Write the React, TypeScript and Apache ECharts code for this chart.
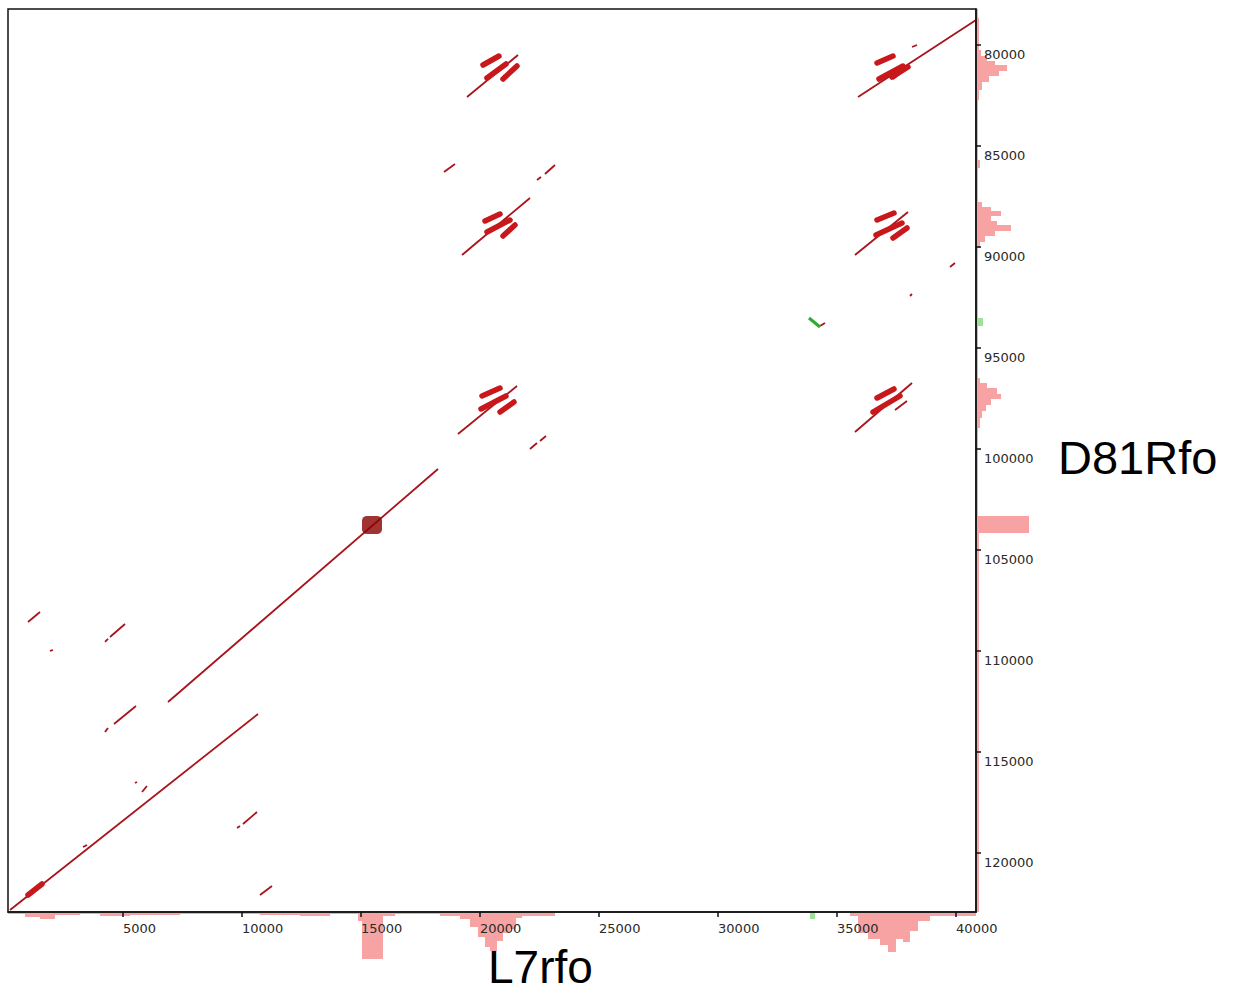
import React, { useEffect, useRef } from "react";
import * as echarts from "echarts";

// Axis ranges (sequence positions)
const X_MIN = 170;
const X_MAX = 40836;
const Y_MIN = 78220;
const Y_MAX = 122920;
const xTicks = [5000, 10000, 15000, 20000, 25000, 30000, 35000, 40000];
const yTicks = [80000, 85000, 90000, 95000, 100000, 105000, 110000, 115000, 120000];

const xTitle = "L7rfo";
const yTitle = "D81Rfo";

// Alignment segments [x1, y1, x2, y2]
const diagonalSegments = [
  [254, 122820, 10672, 113118],
  [6892, 112524, 18234, 100990],
  [35879, 82576, 40836, 78765],
  [19453, 82576, 21595, 80496],
  [19243, 90397, 22099, 87576],
  [35752, 90397, 37979, 88269],
  [19074, 99259, 21553, 96882],
  [35752, 99160, 38147, 96733],
  [1010, 108564, 1514, 108069],
  [1934, 109999, 2060, 109950],
  [4245, 109554, 4371, 109405],
  [4455, 109306, 5085, 108663],
  [4245, 114009, 4371, 113811],
  [4623, 113613, 5547, 112722],
  [5505, 116533, 5589, 116484],
  [5799, 116979, 6009, 116682],
  [3321, 119701, 3489, 119602],
  [9790, 118761, 9916, 118662],
  [10042, 118562, 10630, 117969],
  [10757, 122077, 11261, 121632],
  [22099, 100000, 22393, 99703],
  [22519, 99604, 22771, 99358],
  [18486, 86289, 18948, 85893],
  [22393, 86685, 22561, 86536],
  [22729, 86388, 23149, 85942],
  [39743, 90991, 39953, 90793],
  [38063, 92427, 38147, 92328],
  [38147, 80101, 38357, 80002],
  [34282, 93912, 34492, 93763],
  [37433, 98070, 37937, 97624],
  [37349, 81685, 37853, 81240],
];

// Short tandem-repeat blocks [x1, y1, x2, y2]
const repeatBlocks = [
  [20125, 80992, 20797, 80547],
  [20293, 81636, 21091, 80943],
  [20965, 81685, 21553, 81042],
  [36677, 80893, 37349, 80547],
  [36761, 81685, 37769, 81042],
  [37307, 81586, 37979, 81091],
  [20209, 88714, 20839, 88368],
  [20293, 89259, 21259, 88665],
  [20965, 89457, 21469, 88912],
  [36677, 88665, 37391, 88318],
  [36635, 89407, 37727, 88813],
  [37349, 89556, 37937, 89061],
  [20083, 97377, 20839, 96981],
  [20041, 98020, 21091, 97377],
  [20839, 98169, 21427, 97674],
  [36677, 97476, 37391, 97030],
  [36509, 98169, 37643, 97377],
  [1010, 122077, 1598, 121533],
];

// Forward-strand match
const forwardSegments = [[33820, 93516, 34282, 93961]];

// Dense self-match block
const denseBlock = [[15462, 103762]];

// Coverage profile along x (boundaries) and depths
const bottomCoverageX = [170, 884, 1514, 2144, 3195, 4035, 5295, 7396, 10757, 12437, 13697, 14874, 15042, 15924, 16428, 18318, 19159, 19579, 19915, 20209, 20419, 20713, 20965, 21259, 21511, 21763, 23149, 35542, 35878, 36298, 36802, 37138, 37474, 37768, 38063, 38399, 38903, 40836];
const bottomCoverageH = [1, 4, 6, 2, 1, 3, 2, 1, 2, 3, 1, 8, 46, 3, 1, 3, 6, 14, 24, 34, 38, 28, 20, 16, 5, 3, 0, 3, 20, 26, 32, 39, 26, 29, 18, 8, 3];
const bottomForwardX = [33862, 34072];
const bottomForwardH = [6];

// Coverage profile along y (boundaries) and widths
const rightCoverageY = [78220, 78666, 80250, 80547, 80794, 80992, 81289, 81537, 81834, 82230, 82725, 85695, 86091, 87774, 88021, 88219, 88467, 88714, 88912, 89209, 89457, 89754, 90051, 96486, 96733, 96981, 97278, 97525, 97822, 98119, 98466, 98961, 103317, 104158, 122920];
const rightCoverageW = [1, 2, 4, 10, 18, 30, 22, 12, 5, 2, 1, 3, 1, 5, 14, 24, 14, 20, 34, 18, 8, 3, 1, 3, 10, 20, 24, 14, 9, 5, 3, 1, 52, 2];
const rightForwardY = [93516, 93912];
const rightForwardW = [6];

const PINK = "#f7a3a3";
const GREEN_PINK = "#9be39b";

function stepRender(bounds: number[], vals: number[], alongX: boolean, color: string) {
  return (_params: any, api: any) => {
    const P = (pos: number, v: number) => (alongX ? api.coord([pos, v]) : api.coord([v, pos]));
    const pts: number[][] = [];
    pts.push(P(bounds[0], 0));
    for (let i = 0; i < vals.length; i++) {
      pts.push(P(bounds[i], vals[i]));
      pts.push(P(bounds[i + 1], vals[i]));
    }
    pts.push(P(bounds[vals.length], 0));
    return { type: "polygon", shape: { points: pts }, style: { fill: color } };
  };
}

const toLines = (segs: number[][]) =>
  segs.map((s) => ({ coords: [[s[0], s[1]], [s[2], s[3]]] }));

export default function App() {
  const ref = useRef<HTMLDivElement>(null);
  useEffect(() => {
    if (!ref.current) return;
    const chart = echarts.init(ref.current, undefined, { renderer: "svg" });
    const labelFont = { fontFamily: "DejaVu Sans", fontSize: 13, color: "#2a2a2a", formatter: (v: number) => String(v) };
    chart.setOption({
      animation: false,
      backgroundColor: "#fff",
      grid: [
        { left: 8, top: 9, width: 968, height: 903, show: true, borderColor: "#111", borderWidth: 1.5, backgroundColor: "#fff", z: 1 },
        { left: 8, top: 913, width: 968, height: 80, show: false },
        { left: 977, top: 9, width: 80, height: 903, show: false },
      ],
      xAxis: [
        {
          gridIndex: 0, type: "value", min: X_MIN, max: X_MAX, position: "bottom", z: 10,
          axisLine: { show: true, lineStyle: { color: "#111", width: 1.5 } },
          axisTick: { show: true, customValues: xTicks, length: 5, lineStyle: { color: "#111", width: 1.5 } },
          axisLabel: { show: true, customValues: xTicks, align: "left", margin: 10, ...labelFont },
          splitLine: { show: false },
        },
        { gridIndex: 1, type: "value", min: X_MIN, max: X_MAX, show: false },
        { gridIndex: 2, type: "value", min: 0, max: 80, show: false },
      ],
      yAxis: [
        {
          gridIndex: 0, type: "value", min: Y_MIN, max: Y_MAX, inverse: true, position: "right", z: 10,
          axisLine: { show: true, lineStyle: { color: "#111", width: 1.5 } },
          axisTick: { show: true, customValues: yTicks, length: 5, lineStyle: { color: "#111", width: 1.5 } },
          axisLabel: { show: true, customValues: yTicks, verticalAlign: "top", padding: [3, 0, 0, 0], margin: 8, ...labelFont },
          splitLine: { show: false },
        },
        { gridIndex: 1, type: "value", min: 0, max: 80, inverse: true, show: false },
        { gridIndex: 2, type: "value", min: Y_MIN, max: Y_MAX, inverse: true, show: false },
      ],
      series: [
        {
          type: "custom", xAxisIndex: 1, yAxisIndex: 1, data: [[0, 0]], z: 0, silent: true,
          renderItem: stepRender(bottomCoverageX, bottomCoverageH, true, PINK),
        },
        {
          type: "custom", xAxisIndex: 1, yAxisIndex: 1, data: [[0, 0]], z: 0, silent: true,
          renderItem: stepRender(bottomForwardX, bottomForwardH, true, GREEN_PINK),
        },
        {
          type: "custom", xAxisIndex: 2, yAxisIndex: 2, data: [[0, 0]], z: 0, silent: true,
          renderItem: stepRender(rightCoverageY, rightCoverageW, false, PINK),
        },
        {
          type: "custom", xAxisIndex: 2, yAxisIndex: 2, data: [[0, 0]], z: 0, silent: true,
          renderItem: stepRender(rightForwardY, rightForwardW, false, GREEN_PINK),
        },
        {
          type: "lines", coordinateSystem: "cartesian2d", xAxisIndex: 0, yAxisIndex: 0, silent: true,
          lineStyle: { color: "#a8141c", width: 1.8, opacity: 1, curveness: 0 },
          data: toLines(diagonalSegments), z: 3,
        },
        {
          type: "lines", coordinateSystem: "cartesian2d", xAxisIndex: 0, yAxisIndex: 0, silent: true,
          lineStyle: { color: "#c8181c", width: 5.5, opacity: 1, curveness: 0, cap: "round" },
          data: toLines(repeatBlocks), z: 3,
        },
        {
          type: "lines", coordinateSystem: "cartesian2d", xAxisIndex: 0, yAxisIndex: 0, silent: true,
          lineStyle: { color: "#2eaa2e", width: 3, opacity: 1, curveness: 0 },
          data: toLines(forwardSegments), z: 3,
        },
        {
          type: "scatter", xAxisIndex: 0, yAxisIndex: 0, silent: true, z: 4,
          symbol: "roundRect", symbolSize: [20, 18],
          itemStyle: { color: "#8b0000" },
          data: denseBlock,
        },
      ],
      graphic: [
        {
          type: "text", x: 488, y: 967, z: 20,
          style: { text: xTitle, fontFamily: "Liberation Sans", fontSize: 46, fill: "#000", align: "left", verticalAlign: "middle" },
        },
        {
          type: "text", x: 1058, y: 457, z: 20,
          style: { text: yTitle, fontFamily: "Liberation Sans", fontSize: 47, fill: "#000", align: "left", verticalAlign: "middle" },
        },
      ],
    });
    return () => chart.dispose();
  }, []);
  return <div ref={ref} style={{ position: "absolute", left: 0, top: 0, width: 1235, height: 994 }} />;
}
